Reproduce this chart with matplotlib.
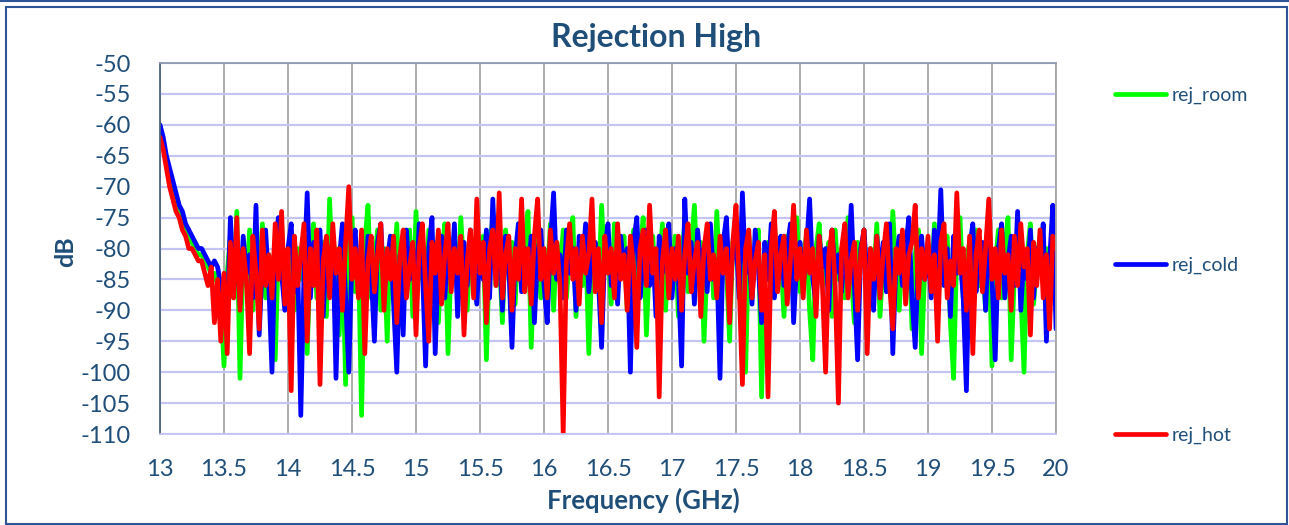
import numpy as np
import matplotlib
matplotlib.use("Agg")
import matplotlib.pyplot as plt
from matplotlib.patches import Rectangle

# ---------------- data ----------------
freq_start, freq_stop, freq_step = 13.0, 20.0, 0.025
freq = np.round(np.arange(freq_start, freq_stop + freq_step / 2, freq_step), 4)

rej_room = [
    -61, -63, -66, -68, -70, -72, -74, -75, -77, -78, -79, -80, -81, -81, -82, -83, -84, -84, -86, -88,
    -99, -84, -78, -88, -74, -101, -80, -86, -77, -90, -79, -85, -76, -88, -81, -84, -98, -80, -76, -87,
    -82, -78, -90, -80, -85, -77, -97, -81, -76, -88, -82, -79, -91, -72, -86, -80, -94, -78, -102, -80,
    -75, -87, -81, -107, -79, -73, -88, -82, -77, -90, -80, -95, -78, -84, -76, -89, -81, -86, -77, -91,
    -74, -85, -80, -89, -77, -84, -79, -92, -81, -76, -97, -82, -78, -87, -75, -84, -90, -79, -86, -77,
    -83, -78, -98, -80, -75, -86, -81, -92, -77, -84, -79, -89, -76, -85, -80, -74, -96, -82, -78, -88,
    -80, -85, -76, -90, -79, -84, -77, -88, -81, -75, -91, -80, -86, -78, -97, -82, -79, -87, -73, -84,
    -80, -89, -76, -85, -81, -78, -90, -82, -77, -86, -80, -75, -94, -81, -78, -88, -83, -76, -90, -80,
    -84, -78, -91, -81, -76, -87, -80, -73, -85, -79, -95, -82, -77, -88, -74, -86, -80, -83, -95, -79,
    -76, -86, -81, -100, -78, -85, -80, -77, -104, -82, -79, -88, -76, -84, -81, -91, -78, -86, -80, -75,
    -87, -81, -78, -90, -98, -80, -76, -86, -82, -79, -91, -77, -85, -80, -88, -75, -84, -92, -79, -83,
    -77, -88, -80, -85, -76, -91, -82, -79, -87, -74, -84, -90, -80, -86, -78, -93, -81, -77, -97, -83,
    -79, -87, -76, -90, -81, -85, -78, -92, -101, -80, -75, -88, -82, -79, -94, -77, -86, -81, -90, -78,
    -99, -83, -77, -88, -80, -75, -98, -84, -79, -87, -100, -81, -76, -89, -82, -78, -86, -80, -84, -79,
    -85,
]

rej_cold = [
    -60, -62, -65, -67, -69, -71, -73, -74, -76, -77, -78, -79, -80, -80, -81, -82, -83, -82, -83, -86,
    -88, -92, -75, -86, -80, -89, -78, -84, -81, -88, -73, -94, -82, -77, -86, -100, -79, -75, -84, -90,
    -80, -76, -87, -82, -107, -84, -71, -88, -79, -85, -77, -91, -80, -86, -78, -101, -82, -76, -88, -100,
    -81, -77, -86, -80, -90, -78, -84, -95, -79, -76, -87, -82, -78, -89, -100, -81, -94, -77, -85, -80,
    -87, -76, -83, -99, -80, -75, -97, -82, -78, -88, -80, -85, -76, -91, -81, -79, -86, -77, -84, -89,
    -80, -85, -77, -88, -72, -84, -80, -90, -78, -83, -96, -81, -76, -87, -80, -84, -78, -92, -81, -77,
    -86, -92, -79, -71, -85, -81, -88, -77, -84, -80, -90, -78, -83, -76, -87, -81, -79, -85, -96, -80,
    -76, -86, -81, -89, -78, -84, -80, -100, -79, -75, -88, -82, -77, -86, -80, -91, -78, -84, -81, -76,
    -88, -80, -85, -99, -72, -84, -79, -89, -77, -83, -80, -87, -76, -85, -82, -101, -79, -75, -86, -81,
    -78, -88, -71, -84, -80, -89, -77, -83, -92, -79, -85, -76, -88, -81, -78, -86, -80, -76, -92, -82,
    -79, -86, -80, -72, -85, -89, -78, -83, -80, -90, -77, -84, -81, -87, -79, -83, -73, -86, -98, -80,
    -77, -85, -81, -90, -78, -84, -79, -87, -76, -97, -82, -78, -86, -80, -75, -88, -96, -81, -78, -85,
    -80, -88, -77, -84, -70.5, -86, -80, -91, -78, -84, -81, -88, -103, -80, -76, -87, -82, -79, -90, -77,
    -85, -98, -80, -76, -88, -82, -78, -86, -74, -90, -81, -85, -77, -88, -80, -83, -76, -95, -82, -73,
    -93,
]

rej_hot = [
    -62, -64, -67, -70, -72, -74, -75, -77, -78, -80, -80, -81, -82, -82, -84, -86, -83, -92, -85, -95,
    -84, -97, -79, -88, -75, -90, -80, -85, -97, -78, -84, -93, -77, -86, -81, -88, -76, -85, -74, -89,
    -80, -103, -78, -86, -81, -76, -95, -80, -86, -77, -102, -82, -78, -88, -76, -84, -80, -90, -79, -70,
    -85, -80, -88, -77, -97, -82, -78, -87, -81, -76, -90, -80, -85, -78, -92, -81, -77, -88, -83, -79,
    -94, -80, -76, -86, -95, -79, -84, -77, -89, -81, -76, -87, -80, -84, -78, -94, -82, -77, -88, -72,
    -84, -79, -92, -80, -77, -86, -71, -88, -81, -78, -90, -80, -85, -72, -87, -80, -89, -78, -72, -85,
    -80, -88, -77, -84, -79, -86, -110, -82, -76, -85, -80, -89, -78, -84, -81, -72, -87, -80, -92, -78,
    -84, -80, -88, -76, -85, -81, -90, -78, -83, -96, -80, -77, -86, -73, -84, -80, -104, -82, -77, -88,
    -80, -85, -78, -90, -81, -76, -87, -82, -79, -91, -80, -76, -85, -81, -88, -78, -84, -80, -92, -79,
    -73, -86, -102, -80, -77, -88, -82, -79, -90, -81, -104, -80, -74, -87, -81, -78, -89, -82, -73, -85,
    -80, -88, -77, -84, -80, -91, -78, -86, -100, -81, -77, -86, -105, -80, -76, -88, -82, -79, -90, -81,
    -77, -97, -80, -85, -78, -88, -81, -76, -86, -93, -80, -84, -77, -89, -81, -79, -73, -88, -80, -85,
    -78, -87, -81, -95, -79, -76, -88, -82, -86, -71, -84, -80, -90, -78, -97, -81, -77, -87, -80, -72,
    -85, -80, -88, -77, -84, -81, -90, -78, -86, -76, -83, -80, -94, -79, -86, -77, -88, -81, -93, -78,
    -80,
]

series_names = ["rej_room", "rej_cold", "rej_hot"]
series_colors = ["#00ff00", "#0000ff", "#ff0000"]
x_ticks = [13, 13.5, 14, 14.5, 15, 15.5, 16, 16.5, 17, 17.5, 18, 18.5, 19, 19.5, 20]
x_tick_labels = ["13", "13.5", "14", "14.5", "15", "15.5", "16", "16.5", "17", "17.5",
                 "18", "18.5", "19", "19.5", "20"]
y_ticks = list(range(-110, -45, 5))

# ---------------- figure ----------------
W, H = 1289, 525
fig = plt.figure(figsize=(W / 100, H / 100), dpi=100)
fig.patch.set_facecolor("white")

txt_color = "#1f4e79"
font = "Lato"

ax = fig.add_axes([160 / W, 1 - 434 / H, (1056 - 160) / W, (434 - 63) / H])

for vals, name, col in zip([rej_room, rej_cold, rej_hot], series_names, series_colors):
    ax.plot(freq, vals, color=col, lw=3.4, label=name, solid_joinstyle="round",
            solid_capstyle="round")

ax.set_xlim(13, 20)
ax.set_ylim(-110, -50)
ax.set_xticks(x_ticks)
ax.set_xticklabels(x_tick_labels)
ax.set_yticks(y_ticks)
ax.set_yticklabels([str(v) for v in y_ticks])

ax.xaxis.grid(True, color="#a6a6a6", lw=1.3)
ax.yaxis.grid(True, color="#c4c4f4", lw=1.6)
ax.set_axisbelow(True)

ax.tick_params(axis="both", length=0, labelsize=17, labelcolor=txt_color)
ax.tick_params(axis="y", pad=21)
ax.tick_params(axis="x", pad=18)
for lab in ax.get_xticklabels() + ax.get_yticklabels():
    lab.set_fontfamily(font)

ax.spines["left"].set_color("#4a6485")
ax.spines["top"].set_color("#8c9bb0")
ax.spines["right"].set_color("#a6a6a6")
ax.spines["bottom"].set_color("#c4c4f4")
for s in ax.spines.values():
    s.set_linewidth(1.3)

ax.set_xlabel("Frequency (GHz)", fontsize=18.5, fontweight="bold", color=txt_color,
              fontfamily=font)
ax.xaxis.set_label_coords((643 - 160) / (1056 - 160), -(500 - 434) / (434 - 63))
ax.xaxis.label.set_va("center")
ax.set_ylabel("dB", fontsize=18, fontweight="bold", color=txt_color, fontfamily=font)
ax.yaxis.set_label_coords(-(160 - 66) / (1056 - 160), (434 - 252) / (434 - 63))
ax.yaxis.label.set_va("center")

fig.text(656 / W, 1 - 38 / H, "Rejection High", ha="center", va="center",
         fontsize=23, fontweight="bold", color=txt_color, fontfamily=font)

leg = fig.legend(loc="upper left", bbox_to_anchor=(1115 / W, 1 - 87 / H),
                 frameon=False, handlelength=2.6, handletextpad=0.3,
                 borderpad=0, borderaxespad=0,
                 labelspacing=7.85, prop={"family": font, "size": 14})
for t in leg.get_texts():
    t.set_color(txt_color)

# outer frame
fig.add_artist(Rectangle((6 / W, 1 / H), (W - 8) / W, (H - 8) / H,
                         transform=fig.transFigure, fill=False,
                         edgecolor="#2f5597", lw=1.5))
fig.add_artist(plt.Line2D([0, 1], [1 - 0.8 / H, 1 - 0.8 / H], transform=fig.transFigure,
                          color="#2f5597", lw=1.5))

fig.savefig("out.png", dpi=100, facecolor="white")
